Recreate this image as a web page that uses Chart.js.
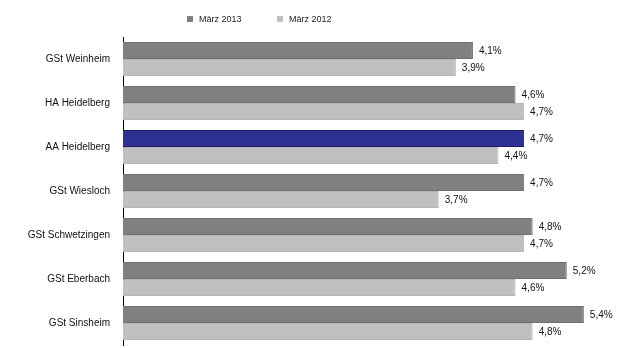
<!DOCTYPE html>
<html>
<head>
<meta charset="utf-8">
<script src="https://cdn.jsdelivr.net/npm/chart.js@4/dist/chart.umd.min.js"></script>
<style>
  html, body { margin: 0; padding: 0; background: #fff; overflow: hidden; }
  canvas { display: block; }
</style>
</head>
<body>
<canvas id="chart" width="624" height="348"></canvas>
<script>
// Arbeitslosenquoten je Geschäftsstelle
const standorte = ['GSt Weinheim', 'HA Heidelberg', 'AA Heidelberg', 'GSt Wiesloch', 'GSt Schwetzingen', 'GSt Eberbach', 'GSt Sinsheim'];
const maerz2013 = [4.1, 4.6, 4.7, 4.7, 4.8, 5.2, 5.4];
const maerz2012 = [3.9, 4.7, 4.4, 3.7, 4.7, 4.6, 4.8];
const serien = ['März 2013', 'März 2012'];

const DUNKEL = '#808080';
const HELL = '#c0c0c0';
const BLAU = '#2e3192';
const SCHRIFT = '"Liberation Sans", Arial, sans-serif';

// AA Heidelberg wird im 2013er Balken blau hervorgehoben
const farben2013 = standorte.map(s => s === 'AA Heidelberg' ? BLAU : DUNKEL);
const rand2013 = standorte.map(s => s === 'AA Heidelberg' ? '#1c1f6e' : '#707070');

const fmt = v => v.toFixed(1).replace('.', ',') + '%';

// Werte rechts neben den Balken
const wertLabels = {
    id: 'wertLabels',
    afterDatasetsDraw(chart) {
        const ctx = chart.ctx;
        ctx.save();
        ctx.font = '10px ' + SCHRIFT;
        ctx.fillStyle = '#111';
        ctx.textBaseline = 'middle';
        chart.data.datasets.forEach((ds, i) => {
            chart.getDatasetMeta(i).data.forEach((bar, j) => {
                ctx.fillText(fmt(ds.data[j]), bar.x + 6, bar.y + 1);
            });
        });
        ctx.restore();
    }
};

// kleine Legende oben
const legende = {
    id: 'legende',
    afterDraw(chart) {
        const ctx = chart.ctx;
        const pos = [187, 277];
        ctx.save();
        ctx.font = '9px ' + SCHRIFT;
        ctx.textBaseline = 'middle';
        chart.data.datasets.forEach((ds, i) => {
            ctx.fillStyle = i === 0 ? DUNKEL : HELL;
            ctx.fillRect(pos[i], 16, 6, 6);
            ctx.fillStyle = '#222';
            ctx.fillText(ds.label, pos[i] + 12, 19.5);
        });
        ctx.restore();
    }
};

new Chart(document.getElementById('chart'), {
    type: 'bar',
    data: {
        labels: standorte,
        datasets: [
            { label: serien[0], data: maerz2013, backgroundColor: farben2013, borderColor: rand2013, borderWidth: 1 },
            { label: serien[1], data: maerz2012, backgroundColor: HELL, borderColor: '#b4b4b4', borderWidth: 1 }
        ]
    },
    options: {
        indexAxis: 'y',
        responsive: false,
        animation: false,
        layout: { padding: { top: 37, bottom: 3, right: 6, left: 0 } },
        datasets: { bar: { categoryPercentage: 0.775, barPercentage: 1.0 } },
        plugins: { legend: { display: false }, tooltip: { enabled: false } },
        scales: {
            x: { display: false, min: 0, max: 5.8 },
            y: {
                grid: { display: false, drawTicks: false },
                border: { display: true, color: '#000', width: 1 },
                ticks: { color: '#111', padding: 13, font: { size: 10, family: SCHRIFT } },
                afterFit(scale) {
                    scale.width = 123;
                    scale.paddingTop = 0;
                    scale.paddingBottom = 0;
                }
            }
        }
    },
    plugins: [wertLabels, legende]
});
</script>
</body>
</html>
